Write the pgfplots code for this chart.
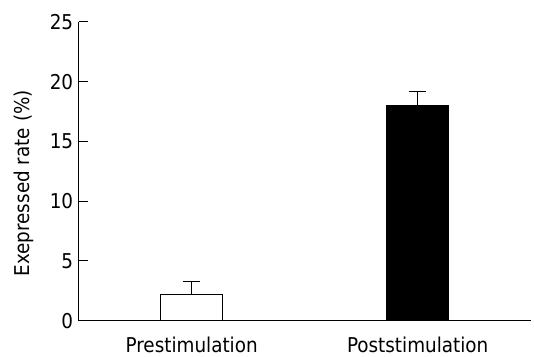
\documentclass[border=0pt]{standalone}
\usepackage{fontspec}
\setmainfont{DejaVu Sans Condensed}
\usepackage{pgfplots}
\pgfplotsset{compat=1.18}
\begin{document}
\begin{tikzpicture}
\begin{axis}[
  scale only axis,
  width=454pt, height=300pt,
  at={(0,0)}, anchor=south west,
  axis lines=left,
  axis line style={-, black, line width=0.9pt},
  xmin=0, xmax=2, ymin=0, ymax=25,
  ytick={0,5,10,15,20,25},
  xtick={0.5,1.5},
  xticklabels={Prestimulation,Poststimulation},
  extra x ticks={1,2},
  extra x tick labels={},
  x tick style={draw=none},
  extra x tick style={tick style={draw=black, line width=0.9pt}},
  y tick style={black, line width=0.9pt},
  major tick length=9pt,
  tick align=inside,
  ylabel={Exepressed rate (\%)},
  ylabel style={font=\fontsize{20.5}{23}\selectfont, at={(axis description cs:-0.121,0.46)}, anchor=center, rotate=0},
  tick label style={font=\fontsize{20.5}{23}\selectfont},
  yticklabel style={anchor=east, xshift=-2pt},
  xticklabel style={yshift=-4pt},
  /pgf/number format/assume math mode=true,
  clip=false,
  ybar, bar width=62pt,
]
\addplot[bar shift=0pt, draw=black, fill=white, line width=0.9pt,
  error bars/.cd, y dir=plus, y explicit,
  error bar style={line width=0.9pt, black},
  error mark options={rotate=90, mark size=8.5pt, line width=0.9pt, black}]
  coordinates {(0.5,2.2) +- (0,1.1)};
\addplot[bar shift=0pt, draw=black, fill=black, line width=0.9pt,
  error bars/.cd, y dir=plus, y explicit,
  error bar style={line width=0.9pt, black},
  error mark options={rotate=90, mark size=8.5pt, line width=0.9pt, black}]
  coordinates {(1.5,18.0) +- (0,1.15)};
\end{axis}
\useasboundingbox (-79pt,-32pt) rectangle (455pt,322pt);
\end{tikzpicture}
\end{document}
